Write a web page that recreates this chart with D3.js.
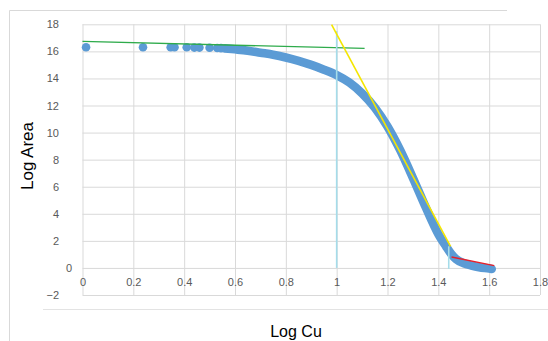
<!DOCTYPE html>
<html><head><meta charset="utf-8">
<script src="https://cdn.jsdelivr.net/npm/d3@7"></script>
<style>
html,body{margin:0;padding:0;background:#fff;}
svg{display:block;}
</style></head>
<body>
<svg id="c" width="548" height="341"></svg>
<script>
// ---- data ----
const xTicks = [0, 0.2, 0.4, 0.6, 0.8, 1, 1.2, 1.4, 1.6, 1.8];
const yTicks = [-2, 0, 2, 4, 6, 8, 10, 12, 14, 16, 18];
// sparse points at the left
const sparseX = [0.014, 0.238, 0.347, 0.362, 0.41, 0.44, 0.46, 0.50, 0.53, 0.545];
const sparseY = [16.3, 16.3, 16.3, 16.3, 16.3, 16.28, 16.28, 16.27, 16.25, 16.24];
// dense part of the series (points overlap into a band)
const denseX = [0.56, 0.6, 0.65, 0.7, 0.75, 0.8, 0.85, 0.9, 0.95, 1.0, 1.05, 1.1, 1.15, 1.2, 1.25, 1.3, 1.35, 1.4, 1.43, 1.45, 1.47, 1.5, 1.53, 1.56, 1.6, 1.61];
const denseY = [16.22, 16.15, 16.05, 15.9, 15.75, 15.55, 15.3, 15.0, 14.65, 14.25, 13.7, 12.9, 11.85, 10.45, 8.7, 6.65, 4.5, 2.5, 1.6, 1.05, 0.65, 0.35, 0.18, 0.05, -0.05, -0.08];
// trend lines
const greenX = [0, 1.11], greenY = [16.74, 16.22];
const yellowX = [0.98, 1.448], yellowY = [17.97, 1.6];
const redX = [1.452, 1.62], redY = [0.81, 0.17];
// light blue drop lines
const drop1X = [1.0, 1.0], drop1Y = [17.5, 0];
const drop2X = [1.441, 1.441], drop2Y = [1.6, -0.07];

const xTitle = "Log Cu", yTitle = "Log Area";

// ---- drawing ----
const svg = d3.select("#c");
const L = 82.5, R = 540, T = 24.3, B = 295;
const x = d3.scaleLinear().domain([0, 1.8]).range([L, R]);
const y = d3.scaleLinear().domain([-2, 18]).range([B, T]);

// chart border pieces
svg.append("line").attr("x1", 9.5).attr("x2", 507).attr("y1", 10.5).attr("y2", 10.5).attr("stroke", "#d9d9d9");
svg.append("line").attr("x1", 9.5).attr("x2", 9.5).attr("y1", 10.5).attr("y2", 341).attr("stroke", "#d9d9d9");
svg.append("line").attr("x1", 43).attr("x2", 548).attr("y1", 309.5).attr("y2", 309.5).attr("stroke", "#e3e3e3");

// gridlines
const gy = svg.append("g").attr("transform", `translate(${L},0)`)
  .call(d3.axisLeft(y).tickValues(yTicks).tickSize(-(R - L)).tickFormat(""));
gy.select(".domain").remove();
gy.selectAll("line").attr("stroke", "#d9d9d9").attr("stroke-width", 1);
const gx = svg.append("g").attr("transform", `translate(0,${B})`)
  .call(d3.axisBottom(x).tickValues(xTicks).tickSize(-(B - T)).tickFormat(""));
gx.select(".domain").remove();
gx.selectAll("line").attr("stroke", "#d9d9d9").attr("stroke-width", 1);

// tick labels
const fmt = d => d3.format("~g")(d);
const ly = svg.append("g").attr("transform", `translate(${L},0)`)
  .call(d3.axisLeft(y).tickValues(yTicks).tickSize(0).tickPadding(23.5).tickFormat(fmt));
ly.select(".domain").remove();
ly.selectAll("text").attr("fill", "#595959").style("font-family", "Liberation Sans, Arial, sans-serif").style("font-size", "11px");
ly.selectAll(".tick").filter(d => d === 0).select("text").attr("x", -10.5);

const lx = svg.append("g").attr("transform", `translate(0,${y(0)})`)
  .call(d3.axisBottom(x).tickValues(xTicks).tickSize(0).tickPadding(10.5).tickFormat(fmt));
lx.select(".domain").remove();
lx.selectAll("text").attr("fill", "#595959").style("font-family", "Liberation Sans, Arial, sans-serif").style("font-size", "11px");

// series
const blue = "#5b9bd5";
const dense = denseX.map((v, i) => [v, denseY[i]]);
svg.append("path").datum(dense)
  .attr("d", d3.line().x(d => x(d[0])).y(d => y(d[1])).curve(d3.curveMonotoneX))
  .attr("fill", "none").attr("stroke", blue).attr("stroke-width", 8.6)
  .attr("stroke-linecap", "round").attr("stroke-linejoin", "round");
svg.append("g").selectAll("circle").data(sparseX.map((v, i) => [v, sparseY[i]]))
  .join("circle").attr("cx", d => x(d[0])).attr("cy", d => y(d[1])).attr("r", 4.3).attr("fill", blue);

// trend/drop lines
function seg(xs, ys, color, w) {
  svg.append("line").attr("x1", x(xs[0])).attr("y1", y(ys[0])).attr("x2", x(xs[1])).attr("y2", y(ys[1]))
    .attr("stroke", color).attr("stroke-width", w);
}
seg(greenX, greenY, "#2eab4b", 1.4);
seg(drop1X, drop1Y, "#a5dcea", 1.6);
seg(drop2X, drop2Y, "#a5dcea", 1.6);
seg(yellowX, yellowY, "#f4e600", 1.6);
seg(redX, redY, "#e8202a", 1.4);

// axis titles
svg.append("text").attr("x", 296).attr("y", 337).attr("text-anchor", "middle")
  .style("font-family", "Liberation Sans, Arial, sans-serif").style("font-size", "16px").attr("fill", "#000").text(xTitle);
svg.append("text").attr("transform", "translate(32.5,156) rotate(-90)").attr("text-anchor", "middle")
  .style("font-family", "Liberation Sans, Arial, sans-serif").style("font-size", "17px").attr("fill", "#000").text(yTitle);
</script>
</body></html>
